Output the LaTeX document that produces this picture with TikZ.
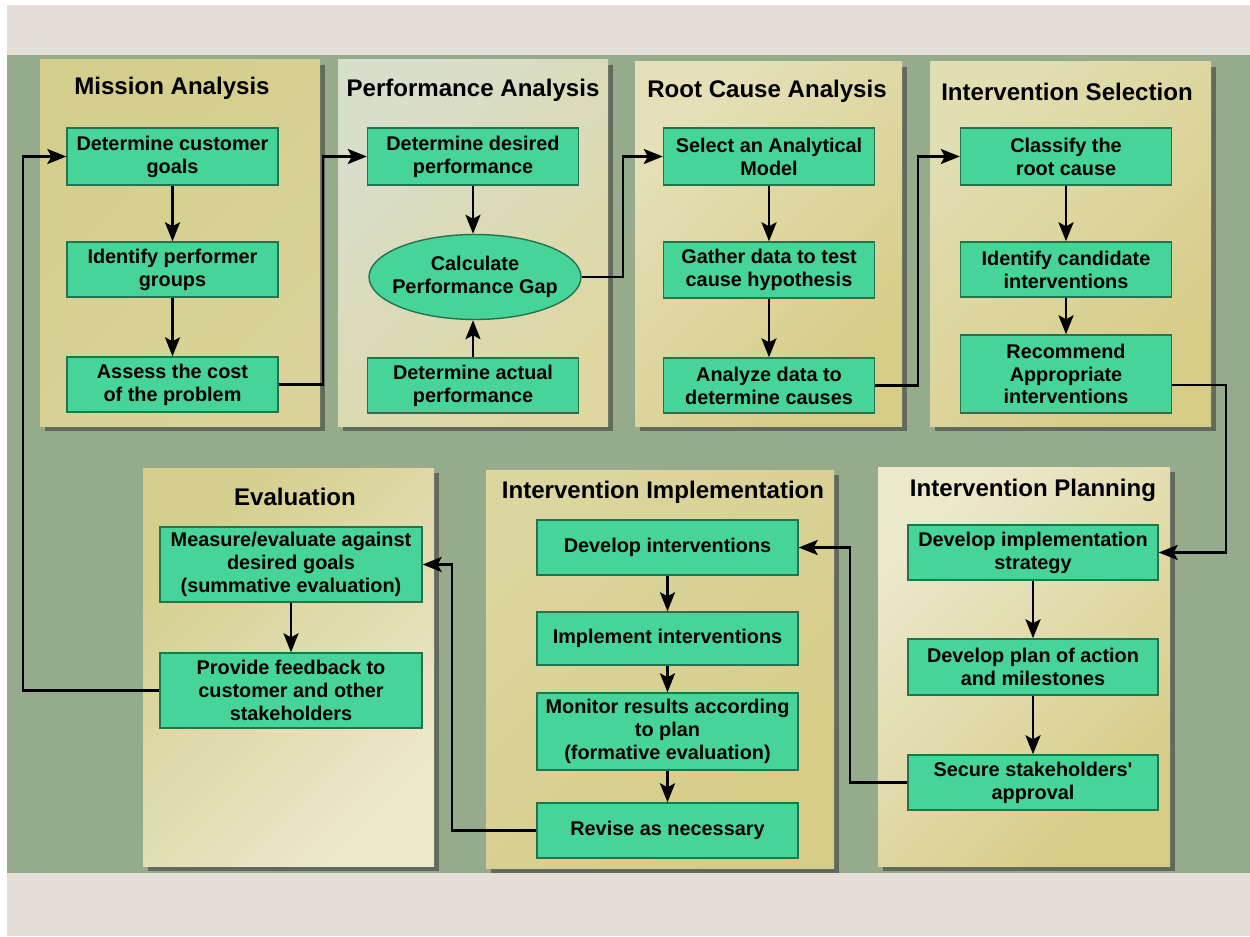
\documentclass[tikz,border=0pt]{standalone}
\usepackage{fontspec}
\setmainfont{Liberation Sans}
\usetikzlibrary{shapes, arrows.meta, positioning, calc, shadows}
\definecolor{bandbeige}{RGB}{229,222,214}
\definecolor{fieldgreen}{RGB}{150,170,140}
\definecolor{boxfill}{RGB}{70,212,152}
\definecolor{boxedge}{RGB}{35,115,80}
\definecolor{panelolive}{RGB}{212,206,140}
\definecolor{panelcream}{RGB}{236,232,204}
\definecolor{panelgrey}{RGB}{216,222,204}
\definecolor{panelyellow}{RGB}{214,204,134}
\tikzset{panel/.style={drop shadow={opacity=0.6, fill=black!75}},
         box/.style={draw=boxedge, fill=boxfill, rectangle, line width=0.8pt,
                     minimum width=4.22cm, minimum height=1.12cm, align=center, inner sep=1pt,
                     font={\fontsize{11.3}{13}\selectfont\bfseries}},
         gap/.style={box, ellipse, inner sep=-0.2cm, minimum width=4.24cm, minimum height=1.7cm},
         title/.style={font={\fontsize{13.7}{16}\selectfont\bfseries}},
         flow/.style={->, line width=1.6pt},
         >={Stealth[length=0.38cm, width=0.3cm, inset=0.08cm]}}
\begin{document}
\begin{tikzpicture}[x=0.02cm, y=-0.02cm]
    \useasboundingbox (0,0) rectangle (1250,936);
    % background bands
    \fill[white] (0,0) rectangle (1250,936);
    \fill[bandbeige] (7,5) rectangle (1250,936);
    \fill[fieldgreen] (7,55) rectangle (1250,873);

    % panels
    \path[panel, top color=panelolive, bottom color=panelolive!80!panelcream, shading angle=45] (40,60) rectangle (320,426);
    \path[panel, top color=panelgrey, bottom color=panelyellow!60!panelcream, shading angle=45] (338,60) rectangle (608,426);
    \path[panel, top color=panelcream!70!panelolive, bottom color=panelyellow, shading angle=45] (635,62) rectangle (902,426);
    \path[panel, top color=panelcream!60!panelolive, bottom color=panelyellow, shading angle=45] (930,62) rectangle (1211,426);
    \path[panel, top color=panelolive, bottom color=panelcream, shading angle=45] (143,468) rectangle (434,866);
    \path[panel, top color=panelolive!70!panelcream, bottom color=panelyellow, shading angle=45] (486,470) rectangle (834,868);
    \path[panel, top color=panelcream, bottom color=panelyellow, shading angle=45] (878,467) rectangle (1170,866);

    % titles
    \node[title] (tmission) at (172,88) {Mission Analysis};
    \node[title] (tperf) at (473,90) {Performance Analysis};
    \node[title] (troot) at (767,91) {Root Cause Analysis};
    \node[title] (tselect) at (1067,92) {Intervention Selection};
    \node[title] (teval) at (295,497) {Evaluation};
    \node[title] (timpl) at (663,492) {Intervention Implementation};
    \node[title] (tplan) at (1033,490) {Intervention Planning};

    % mission analysis
    \node[box, minimum height=1.14cm] (mgoals) at (172.5,156.5) {Determine customer\\goals};
    \node[box, minimum height=1.1cm] (mgroups) at (172.5,269.5) {Identify performer\\groups};
    \node[box, minimum height=1.1cm] (mcost) at (172.5,384.5) {Assess the cost\\of the problem};

    % performance analysis
    \node[box, minimum height=1.14cm] (pdesired) at (473,156.5) {Determine desired\\performance};
    \node[gap] (pgap) at (475,277) {Calculate\\Performance Gap};
    \node[box, minimum height=1.1cm] (pactual) at (473,385.5) {Determine actual\\performance};

    % root cause analysis
    \node[box, minimum height=1.14cm] (rmodel) at (769,156.5) {Select an Analytical\\Model};
    \node[box, minimum height=1.12cm] (rgather) at (769,270) {Gather data to test\\cause hypothesis};
    \node[box, minimum height=1.1cm] (ranalyze) at (769,385.5) {Analyze data to\\determine causes};

    % intervention selection
    \node[box, minimum height=1.14cm] (sclassify) at (1066,156.5) {Classify the\\root cause};
    \node[box, minimum height=1.1cm] (scandidate) at (1066,269.5) {Identify candidate\\interventions};
    \node[box, minimum height=1.56cm] (srecommend) at (1066,374) {Recommend\\Appropriate\\interventions};

    % evaluation
    \node[box, minimum width=5.24cm, minimum height=1.5cm] (emeasure) at (291,564.5) {Measure/evaluate against\\desired goals\\(summative evaluation)};
    \node[box, minimum width=5.24cm, minimum height=1.5cm] (efeedback) at (291,690.5) {Provide feedback to\\customer and other\\stakeholders};

    % intervention implementation
    \node[box, minimum width=5.22cm, minimum height=1.1cm] (idevelop) at (667.5,547.5) {Develop interventions};
    \node[box, minimum width=5.22cm, minimum height=1.06cm] (iimplement) at (667.5,638.5) {Implement interventions};
    \node[box, minimum width=5.22cm, minimum height=1.54cm] (imonitor) at (667.5,731.5) {Monitor results according\\to plan\\(formative evaluation)};
    \node[box, minimum width=5.22cm, minimum height=1.1cm] (irevise) at (667.5,830.5) {Revise as necessary};

    % intervention planning
    \node[box, minimum width=5cm, minimum height=1.1cm] (plstrategy) at (1033,552.5) {Develop implementation\\strategy};
    \node[box, minimum width=5cm, minimum height=1.12cm] (plaction) at (1033,667) {Develop plan of action\\and milestones};
    \node[box, minimum width=5cm, minimum height=1.1cm] (plapproval) at (1033,782.5) {Secure stakeholders\textquotesingle\\approval};

    % bend columns of the long connectors
    \coordinate (jma) at (323,0);
    \coordinate (jpr) at (623,0);
    \coordinate (jrs) at (918,0);
    \coordinate (jsp) at (1226,0);
    \coordinate (jpi) at (850,0);
    \coordinate (jie) at (452,0);
    \coordinate (jem) at (23,0);

    % steps inside the panels
    \draw[flow] (mgoals) -- (mgroups);
    \draw[flow] (mgroups) -- (mcost);
    \draw[flow] (pdesired) -- (pdesired |- pgap.north);
    \draw[flow] (pactual) -- (pactual |- pgap.south);
    \draw[flow] (rmodel) -- (rgather);
    \draw[flow] (rgather) -- (ranalyze);
    \draw[flow] (sclassify) -- (scandidate);
    \draw[flow] (scandidate) -- (srecommend);
    \draw[flow] (emeasure) -- (efeedback);
    \draw[flow] (idevelop) -- (iimplement);
    \draw[flow] (iimplement) -- (imonitor);
    \draw[flow] (imonitor) -- (irevise);
    \draw[flow] (plstrategy) -- (plaction);
    \draw[flow] (plaction) -- (plapproval);

    % links between the panels
    \draw[flow] (mcost.east) -| (jma |- pdesired.west) -- (pdesired.west);
    \draw[flow] (pgap.east) -| (jpr |- rmodel.west) -- (rmodel.west);
    \draw[flow] (ranalyze.east) -| (jrs |- sclassify.west) -- (sclassify.west);
    \draw[flow] ([yshift=-0.22cm]srecommend.east) -| (jsp |- plstrategy.east) -- (plstrategy.east);
    \draw[flow] (plapproval.west) -| (jpi |- idevelop.east) -- (idevelop.east);
    \draw[flow] (irevise.west) -| (jie |- emeasure.east) -- (emeasure.east);
    \draw[flow] (efeedback.west) -| (jem |- mgoals.west) -- (mgoals.west);
\end{tikzpicture}
\end{document}
